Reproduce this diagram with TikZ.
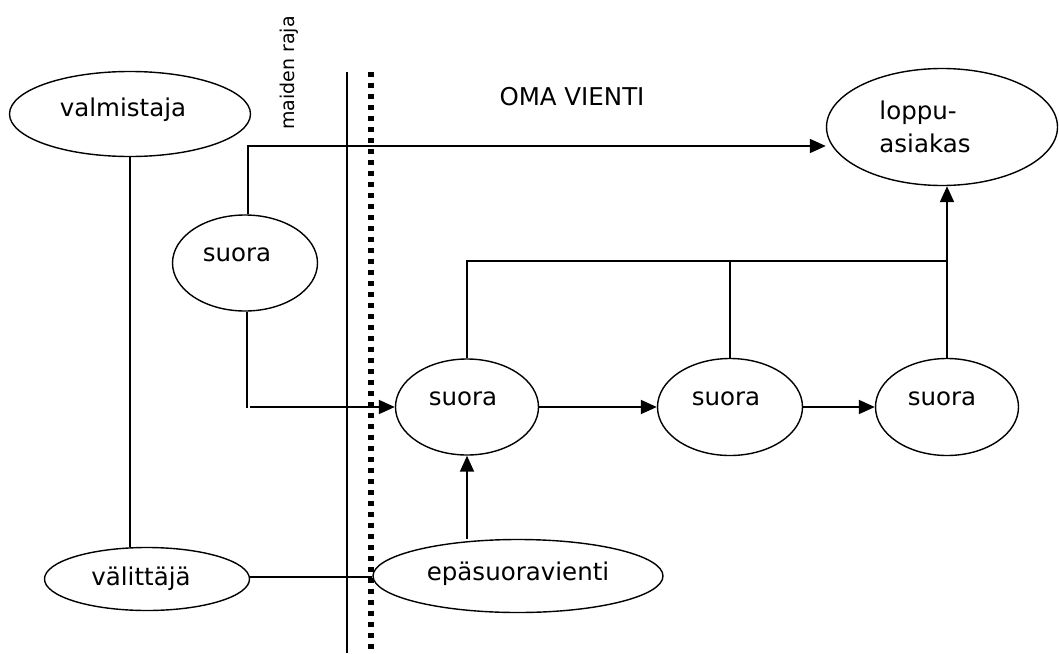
\documentclass[tikz,border=0pt]{standalone}
\usepackage{fontspec}
\setmainfont{DejaVu Sans}
\usetikzlibrary{shapes.geometric,arrows.meta}
\begin{document}
\begin{tikzpicture}[x=1pt,y=-1pt,
  txt/.style={font=\fontsize{24.5}{33}\selectfont,inner sep=0pt},
  ell/.style={draw,ellipse,line width=1.4pt,inner sep=0pt},
  conn/.style={line width=1.9pt},
  arr/.style={conn,-{Triangle[length=16pt,width=14pt]}}]
\useasboundingbox (0,0) rectangle (1059,653);
% nodes
\node[ell,minimum width=241pt,minimum height=85pt,
  label={[txt,xshift=-7pt,yshift=4pt]center:valmistaja}] (valm) at (130,114) {};
\node[ell,minimum width=145pt,minimum height=96pt,
  label={[txt,xshift=-8pt,yshift=8pt]center:suora}] (sl) at (245,263) {};
\node[ell,minimum width=231pt,minimum height=117pt,
  label={[txt,align=left,xshift=-17pt]center:loppu-\\asiakas}] (loppu) at (942,127) {};
\node[ell,minimum width=143pt,minimum height=96pt,
  label={[txt,xshift=-4pt,yshift=8pt]center:suora}] (s1) at (467,407) {};
\node[ell,minimum width=145pt,minimum height=97pt,
  label={[txt,xshift=-4pt,yshift=8pt]center:suora}] (s2) at (730,407) {};
\node[ell,minimum width=143pt,minimum height=97pt,
  label={[txt,xshift=-5pt,yshift=8pt]center:suora}] (s3) at (947,407) {};
\node[ell,minimum width=290pt,minimum height=73pt,
  label={[txt,yshift=2pt]center:epäsuoravienti}] (epa) at (518,576) {};
\node[ell,minimum width=205pt,minimum height=63pt,
  label={[txt,xshift=-6pt]center:välittäjä}] (valit) at (147,579) {};
\node[rotate=90,font=\fontsize{19}{22}\selectfont,inner sep=0pt] (raja) at (289,73) {maiden raja};
\node[txt] (oma) at (572,97) {OMA VIENTI};
% border lines
\coordinate (b1t) at (347,72);
\coordinate (b1b) at (347,653);
\coordinate (b2t) at (371,72);
\coordinate (b2b) at (371,653);
\draw[line width=1.4pt] (b1t) -- (b1b);
\draw[line width=5.5pt,dash pattern=on 5pt off 6pt] (b2t) -- (b2b);
% connectors
\coordinate (c1) at (248,146);
\coordinate (c2) at (247,408);
\coordinate (c3) at (250,407);
\coordinate (vy) at (0,577);
\draw[conn] (valm.south) -- (valm.south |- valit.north);
\draw[arr] (c1 |- sl.north) -- (c1) -- (loppu.west |- c1);
\draw[conn] (c2 |- sl.south) -- (c2);
\draw[arr] (c3) -- (s1.west);
\draw[arr] (s1) -- (s2);
\draw[arr] (s2) -- (s3);
\draw[arr] (epa.north -| s1.south) -- (s1.south);
\draw[arr] (s3.north) -- (loppu.south -| s3.north);
\coordinate (top) at (467,261);
\draw[conn] (s1.north) -- (top) -- (s3.north |- top);
\draw[conn] (s2.north) -- (s2.north |- top);
\draw[line width=1.4pt] (valit.east |- vy) -- (epa.west |- vy);
\end{tikzpicture}
\end{document}
